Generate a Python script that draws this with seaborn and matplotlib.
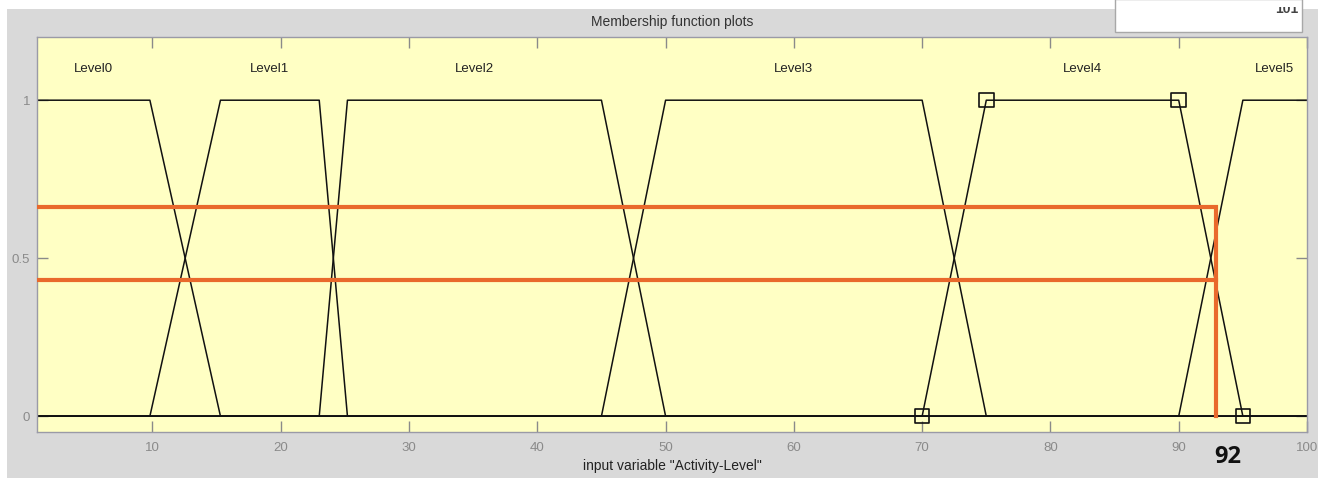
import numpy as np
import pandas as pd
import seaborn as sns
import matplotlib.pyplot as plt
from matplotlib.patches import Rectangle

plt.rcParams["font.family"] = ["Liberation Sans", "DejaVu Sans"]

levels = ["Level0", "Level1", "Level2", "Level3", "Level4", "Level5"]
# trapmf corners (a, b, c, d)
mf_a = [-3.4, 9.8, 23.0, 45.0, 70.0, 90.0]
mf_b = [1.0, 15.3, 25.2, 50.0, 75.0, 95.0]
mf_c = [9.8, 23.0, 45.0, 70.0, 90.0, 100.0]
mf_d = [15.3, 25.2, 50.0, 75.0, 95.0, 104.0]
x_range = [1, 100]

# selected MF (Level4) handles
sq_x = [70, 75, 90, 95]
sq_y = [0, 1, 1, 0]

# orange annotation
input_x = 92.9
cut_hi = 0.663
cut_lo = 0.432
input_label = "92"

rows = []
for name, a, b, c, d in zip(levels, mf_a, mf_b, mf_c, mf_d):
    xs = [x_range[0]] + [p for p in (a, b, c, d) if x_range[0] < p < x_range[1]] + [x_range[1]]
    ys = np.interp(xs, [a, b, c, d], [0, 1, 1, 0])
    for xv, yv in zip(xs, ys):
        rows.append({"x": xv, "y": yv, "level": name})
df = pd.DataFrame(rows)

fig = plt.figure(figsize=(13.25, 4.78), dpi=100, facecolor="white")
W, H = 1325, 478
fig.patches.append(Rectangle((7 / W, 0), (1318 - 7) / W, (H - 9) / H, transform=fig.transFigure,
                             facecolor="#D9D9D9", edgecolor="none", zorder=-2))
box = Rectangle((1115 / W, (H - 32) / H), (1302 - 1115) / W, 33 / H, transform=fig.transFigure,
                facecolor="white", edgecolor="#A8A8A8", lw=1, zorder=-1)
fig.patches.append(box)
# only the lower part of the box text is visible in the screenshot
clip = Rectangle((1115 / W, (H - 32) / H), (1302 - 1115) / W, 25 / H, transform=fig.transFigure,
                 facecolor="none", edgecolor="none")
fig.patches.append(clip)
t = fig.text(1287 / W, (H - 13) / H, "101", ha="center", va="baseline", fontsize=10,
             fontweight="bold", color="#444444")
t.set_clip_path(clip)

ax = fig.add_axes([37 / W, (H - 432) / H, (1307 - 37) / W, (432 - 37) / H])
ax.set_facecolor("#FFFFC4")

sns.lineplot(data=df, x="x", y="y", units="level", estimator=None, sort=False,
             color="#111111", lw=1.1, ax=ax)
sns.scatterplot(x=sq_x, y=sq_y, marker="s", s=110, facecolor="none",
                edgecolor="#111111", linewidth=1.2, ax=ax, zorder=5)

for name, b, c in zip(levels, mf_b, mf_c):
    ax.text((max(b, x_range[0]) + min(c, x_range[1])) / 2, 1.1, name, ha="center", va="center",
            fontsize=9.5, color="#222222")

orange = "#E9692C"
ax.plot([x_range[0], input_x, input_x], [cut_hi, cut_hi, 0], color=orange, lw=3, zorder=6,
        solid_joinstyle="miter")
ax.plot([x_range[0], input_x], [cut_lo, cut_lo], color=orange, lw=3, zorder=6)
ax.text(input_x + 0.9, -0.128, input_label, ha="center", va="center", fontsize=17,
        fontweight="bold", color="#111111", clip_on=False, family=["Open Sans", "DejaVu Sans"])

ax.set_xlim(x_range)
ax.set_ylim(-0.05, 1.2)
ax.set_xticks(np.arange(10, 101, 10))
ax.set_yticks([0, 0.5, 1])
ax.set_yticklabels(["0", "0.5", "1"])
ax.tick_params(direction="in", length=8, width=1, color="#8A8A8A", labelcolor="#8A8A8A",
               labelsize=9.5, top=True, right=True)
ax.tick_params(axis="x", pad=7)
ax.tick_params(axis="y", pad=5)
for s in ax.spines.values():
    s.set_color("#9A9AA6")
    s.set_linewidth(1)
ax.set_xlabel('input variable "Activity-Level"', fontsize=10, color="#222222", labelpad=4)
ax.set_ylabel("")
ax.set_title("Membership function plots", fontsize=10, color="#333333", pad=8)

fig.savefig("out.png", dpi=100)
